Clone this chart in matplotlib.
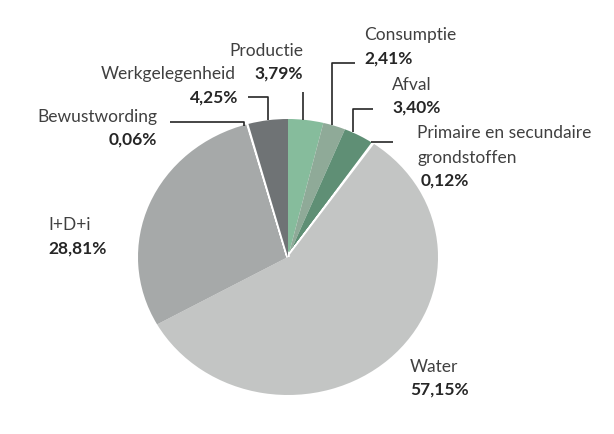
import matplotlib
matplotlib.use("Agg")
import matplotlib.pyplot as plt

categories = ["Productie", "Consumptie", "Afval", "Primaire en secundaire\ngrondstoffen",
              "Water", "I+D+i", "Bewustwording", "Werkgelegenheid"]
values = [3.79, 2.41, 3.40, 0.12, 57.15, 28.81, 0.06, 4.25]
pct_labels = ["3,79%", "2,41%", "3,40%", "0,12%", "57,15%", "28,81%", "0,06%", "4,25%"]
colors = ["#86BC9C", "#8FAA98", "#5F8F75", "#FFFFFF", "#C3C5C4", "#A6A9A9", "#FFFFFF", "#6F7375"]

W, H = 614, 434
fig = plt.figure(figsize=(W / 100, H / 100), dpi=100)
fig.patch.set_facecolor("white")

# pie axes (slightly elliptical as in reference)
cx, cy, rx, ry = 288, 257, 150, 138
pax = fig.add_axes([(cx - rx) / W, 1 - (cy + ry) / H, 2 * rx / W, 2 * ry / H])
wedges, _ = pax.pie(values, colors=colors, startangle=90, counterclock=False,
                    wedgeprops=dict(linewidth=0))
for w, v in zip(wedges, values):
    if v < 0.2:
        w.set_edgecolor("white")
        w.set_linewidth(2.5)
pax.set_xlim(-1, 1)
pax.set_ylim(-1, 1)
pax.set_aspect("auto")
pax.axis("off")

# overlay axes in pixel coordinates for labels and leader lines
ov = fig.add_axes([0, 0, 1, 1])
ov.set_xlim(0, W)
ov.set_ylim(H, 0)
ov.axis("off")
ov.patch.set_alpha(0)

font = "Lato"
name_col = "#404040"
pct_col = "#262626"
fs = 12.5
line_gap = 25

# label layout: (name x, name y of first line, pct x, pct y, ha)
layout = {
    "Productie": (303, 51, 303, 74, "right"),
    "Consumptie": (364, 35, 364, 59, "left"),
    "Afval": (392, 85, 392, 108, "left"),
    "Primaire en secundaire\ngrondstoffen": (417, 133, 421, 181, "left"),
    "Water": (410, 367, 410, 390, "left"),
    "I+D+i": (48, 225, 48, 249, "left"),
    "Bewustwording": (157, 117, 157, 140, "right"),
    "Werkgelegenheid": (236, 74, 238, 98, "right"),
}
for cat, pct in zip(categories, pct_labels):
    nx, ny, px, py, ha = layout[cat]
    for i, line in enumerate(cat.split("\n")):
        ov.text(nx, ny + i * line_gap, line, ha=ha, va="center", fontsize=fs,
                family=font, color=name_col)
    ov.text(px, py, pct, ha=ha, va="center", fontsize=fs, family=font, color=pct_col,
            fontweight="bold")

leaders = [
    [(303, 92), (303, 120)],
    [(355, 63), (332, 63), (332, 125)],
    [(373, 109), (353, 109), (353, 132)],
    [(393, 142), (371, 142)],
    [(170, 122), (244, 122), (244, 126)],
    [(248, 97), (268, 97), (268, 120)],
]
for pts in leaders:
    xs, ys = zip(*pts)
    ov.plot(xs, ys, color="#262626", lw=1.2, solid_capstyle="butt")

fig.savefig("out.png", dpi=100, facecolor="white")
